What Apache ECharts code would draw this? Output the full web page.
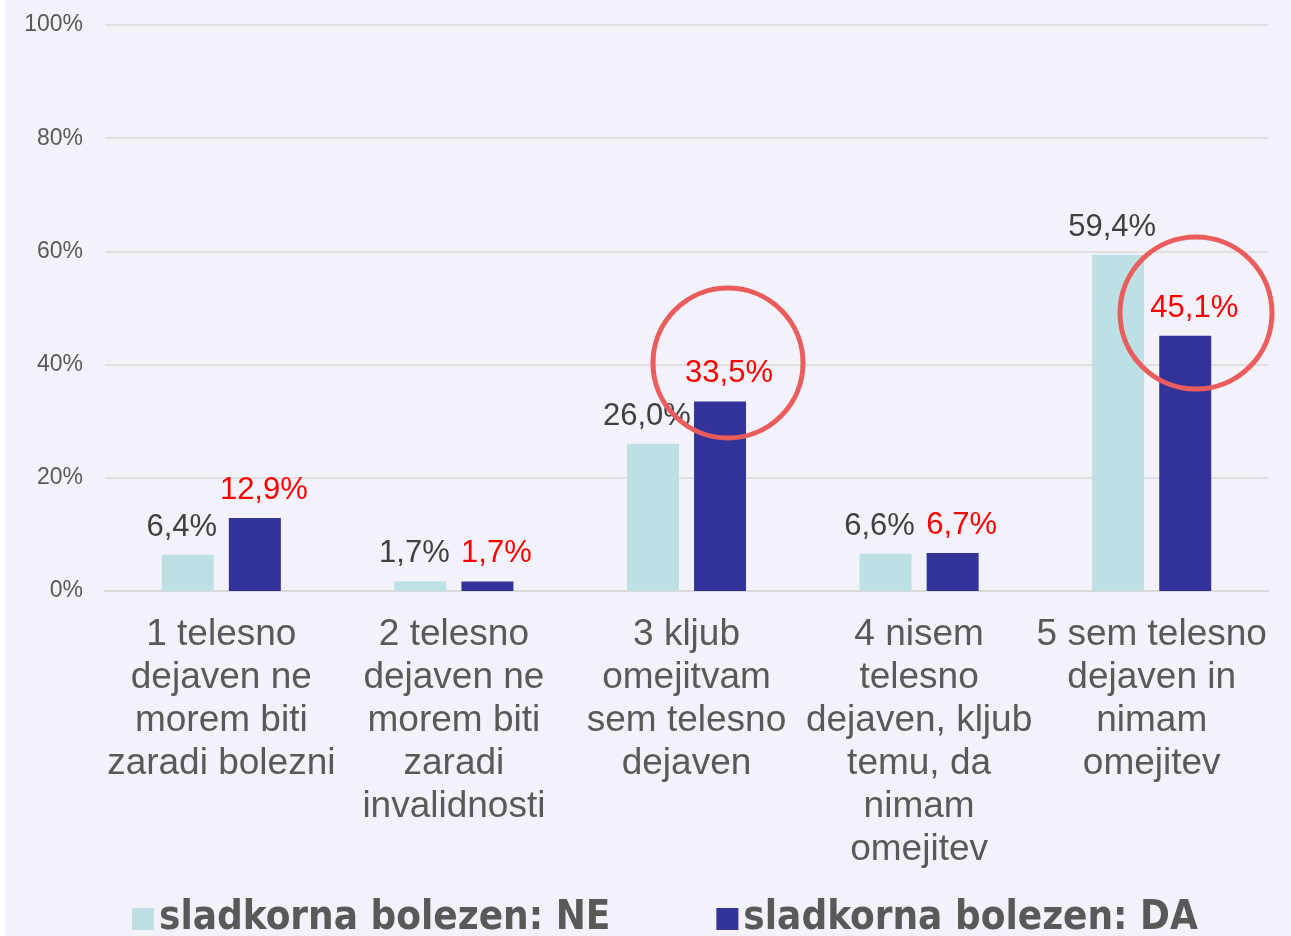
<!DOCTYPE html>
<html>
<head>
    <meta charset="utf-8">
    <script src="https://cdn.jsdelivr.net/npm/echarts@6/dist/echarts.min.js"></script>
    <style>
        body { margin: 0; background: #ffffff; overflow: hidden; }
        #main { position: absolute; left: 5px; top: 0; width: 1286px; height: 936px; background: #f3f2fb; }
    </style>
</head>
<body>
    <div id="main"></div>
    <script type="text/javascript">
        var myChart = echarts.init(document.getElementById('main'));

        // kategorije in vrednosti (v %)
        var categories = [
            '1 telesno\ndejaven ne\nmorem biti\nzaradi bolezni',
            '2 telesno\ndejaven ne\nmorem biti\nzaradi\ninvalidnosti',
            '3 kljub\nomejitvam\nsem telesno\ndejaven',
            '4 nisem\ntelesno\ndejaven, kljub\ntemu, da\nnimam\nomejitev',
            '5 sem telesno\ndejaven in\nnimam\nomejitev'
        ];
        var seriesNames = ['sladkorna bolezen: NE', 'sladkorna bolezen: DA'];
        var valuesNE = [6.4, 1.7, 26.0, 6.6, 59.4];
        var valuesDA = [12.9, 1.7, 33.5, 6.7, 45.1];
        var yTicks = [0, 20, 40, 60, 80, 100];

        function pct(p) {
            return p.value.toFixed(1).replace('.', ',') + '%';
        }

        var option = {
            animation: false,
            textStyle: { fontFamily: 'Liberation Sans, Arial, sans-serif' },
            grid: { left: 100, right: 23, top: 25, bottom: 345 },
            legend: {
                data: seriesNames,
                left: 122,
                top: 894,
                itemWidth: 22,
                itemHeight: 22,
                itemGap: 106,
                icon: 'rect',
                textStyle: {
                    fontFamily: 'DejaVu Sans Condensed, sans-serif',
                    fontWeight: 'bold',
                    fontSize: 40,
                    color: '#595959'
                }
            },
            xAxis: {
                type: 'category',
                data: categories,
                axisTick: { show: false },
                axisLine: { lineStyle: { color: '#d9d9d9', width: 2 } },
                axisLabel: {
                    interval: 0,
                    margin: 22,
                    fontSize: 37,
                    lineHeight: 43,
                    color: '#595959'
                }
            },
            yAxis: {
                type: 'value',
                min: yTicks[0],
                max: yTicks[yTicks.length - 1],
                interval: 20,
                axisLabel: {
                    formatter: '{value}%',
                    fontSize: 23,
                    color: '#595959',
                    margin: 22
                },
                splitLine: { lineStyle: { color: '#d9d9d9', width: 1.5 } }
            },
            series: [
                {
                    name: seriesNames[0],
                    type: 'bar',
                    data: valuesNE,
                    barWidth: 52,
                    barGap: '29%',
                    itemStyle: { color: '#bce0e3' },
                    label: {
                        show: true,
                        position: 'top',
                        distance: 12,
                        offset: [-6, 0],
                        formatter: pct,
                        fontSize: 31,
                        color: '#404040'
                    }
                },
                {
                    name: seriesNames[1],
                    type: 'bar',
                    data: valuesDA,
                    barWidth: 52,
                    itemStyle: { color: '#333399' },
                    label: {
                        show: true,
                        position: 'top',
                        distance: 12,
                        offset: [9, 0],
                        formatter: pct,
                        fontSize: 31,
                        color: '#ff0000'
                    }
                }
            ],
            graphic: [
                {
                    type: 'circle',
                    shape: { cx: 723, cy: 363, r: 75 },
                    style: { fill: 'none', stroke: '#eb5c5c', lineWidth: 5 },
                    z: 100
                },
                {
                    type: 'circle',
                    shape: { cx: 1191, cy: 313, r: 76 },
                    style: { fill: 'none', stroke: '#eb5c5c', lineWidth: 5 },
                    z: 100
                }
            ]
        };

        myChart.setOption(option);
    </script>
</body>
</html>
